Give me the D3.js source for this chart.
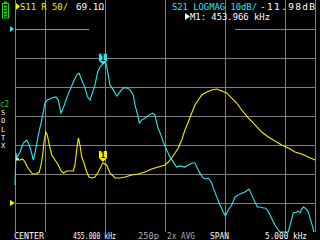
<!DOCTYPE html>
<html>
<head>
<meta charset="utf-8">
<script src="https://cdn.jsdelivr.net/npm/d3@7"></script>
<style>
  html, body { margin: 0; padding: 0; background: #000; }
  svg { display: block; }
  text { font-family: "DejaVu Sans Mono", monospace; }
</style>
</head>
<body>
<div id="chart"></div>
<script>
// sweep: center 455.000 kHz, span 5.000 kHz
const startKHz = 452.5, stopKHz = 457.5;
const gridFreqs = [452.5, 453, 454, 455, 456, 457, 457.5];
const gridDb = [-10, -20, -30, -40, -50, -60];

// S21 LOGMAG (dB)
const s21Freq = [452.500, 452.517, 452.528, 452.583, 452.638, 452.695, 452.738, 452.778, 452.805, 452.833,
  452.888, 452.945, 453.000, 453.038, 453.112, 453.183, 453.222, 453.267, 453.305, 453.362,
  453.417, 453.472, 453.528, 453.567, 453.612, 453.667, 453.708, 453.750, 453.788, 453.833,
  453.878, 453.917, 453.966, 454.012, 454.045, 454.083, 454.138, 454.195, 454.250, 454.305,
  454.362, 454.417, 454.472, 454.500, 454.545, 454.572, 454.612, 454.667, 454.733, 454.795,
  454.833, 454.878, 454.933, 454.972, 455.028, 455.083, 455.138, 455.195, 455.250, 455.333,
  455.388, 455.445, 455.500, 455.538, 455.583, 455.622, 455.667, 455.722, 455.778, 455.805,
  455.862, 455.917, 455.972, 456.008, 456.055, 456.112, 456.167, 456.222, 456.278, 456.333,
  456.400, 456.445, 456.500, 456.538, 456.583, 456.638, 456.667, 456.705, 456.750, 456.783,
  456.833, 456.888, 456.917, 457.055, 457.112, 457.138, 457.195, 457.222, 457.250, 457.278,
  457.305, 457.333, 457.362, 457.388, 457.417, 457.462, 457.483];
const s21Db = [-53.8, -42.8, -44.5, -42.4, -39.3, -38.3, -40.0, -42.8, -45.2, -42.8,
  -36.6, -31.4, -25.5, -24.5, -23.8, -23.4, -24.5, -29.0, -27.2, -23.8,
  -21.0, -18.3, -15.9, -15.2, -17.6, -20.3, -23.4, -24.5, -22.1, -19.3,
  -14.8, -13.1, -11.98, -11.4, -14.8, -19.3, -21.0, -23.1, -21.7, -20.3,
  -20.3, -21.0, -22.8, -26.2, -29.7, -32.4, -31.4, -30.7, -29.7, -29.0,
  -29.7, -33.8, -36.6, -39.0, -41.7, -44.1, -45.9, -47.6, -47.2, -47.6,
  -46.9, -46.2, -46.2, -47.9, -49.7, -51.0, -51.7, -51.4, -53.1, -54.8,
  -57.9, -60.7, -63.1, -64.5, -62.4, -60.7, -57.9, -57.2, -56.6, -56.2,
  -55.2, -57.2, -59.7, -61.4, -61.4, -61.7, -61.7, -62.4, -64.1, -65.5,
  -67.6, -69.3, -70.0, -70.0, -65.5, -63.4, -63.1, -62.8, -63.4, -62.1,
  -61.4, -61.7, -62.4, -63.1, -65.2, -68.3, -70.0];

// S11 resistance (ohm)
const s11Freq = [452.512, 452.583, 452.628, 452.667, 452.705, 452.750, 452.795, 452.850, 452.905, 452.933,
  452.962, 452.983, 453.012, 453.038, 453.072, 453.112, 453.167, 453.222, 453.267, 453.305,
  453.362, 453.472, 453.500, 453.528, 453.555, 453.583, 453.612, 453.650, 453.695, 453.733,
  453.778, 453.833, 453.888, 453.945, 453.966, 454.028, 454.083, 454.167, 454.250, 454.333,
  454.445, 454.555, 454.667, 454.778, 454.888, 455.000, 455.055, 455.112, 455.167, 455.222,
  455.278, 455.333, 455.388, 455.445, 455.500, 455.555, 455.612, 455.695, 455.778, 455.862,
  455.945, 456.028, 456.112, 456.195, 456.278, 456.388, 456.500, 456.612, 456.722, 456.833,
  456.945, 457.055, 457.167, 457.278, 457.388, 457.500];
const s11R = [74.1, 74.1, 75.9, 70.7, 62.1, 55.2, 50.0, 50.0, 53.4, 65.5,
  82.8, 105.2, 122.4, 117.2, 100.0, 82.8, 74.1, 65.5, 55.2, 51.7,
  55.2, 55.2, 65.5, 91.4, 112.1, 100.0, 79.3, 69.0, 53.4, 44.8,
  43.1, 44.8, 53.4, 65.5, 69.1, 65.5, 51.7, 43.1, 43.1, 44.8,
  48.3, 50.0, 53.4, 58.6, 62.1, 65.5, 70.7, 77.6, 86.2, 94.8,
  108.6, 125.9, 139.7, 155.2, 169.0, 177.6, 186.2, 191.4, 194.8, 196.6,
  193.1, 189.7, 181.0, 172.4, 160.3, 146.6, 134.5, 122.4, 113.8, 106.9,
  100.0, 94.8, 87.9, 84.5, 79.3, 74.1];

const markerFreq = 453.966, markerDb = -11.98, markerR = 69.1;
const calLetters = ['S', 'O', 'L', 'T', 'X'];

const W = 320, H = 240;
const svg = d3.select('#chart').append('svg').attr('width', W).attr('height', H);
svg.append('rect').attr('width', W).attr('height', H).attr('fill', '#000');

const x = d3.scaleLinear().domain([startKHz, stopKHz]).range([15, 315]);
const yDb = d3.scaleLinear().domain([10, -70]).range([0, 232]);   // 10 dB/div, ref 0 dB
const yR = d3.scaleLinear().domain([-50, 350]).range([232, 0]);   // 50 ohm/div, ref 0

const grid = svg.append('g').attr('stroke', '#808080').attr('shape-rendering', 'crispEdges');
grid.selectAll('line.v').data(gridFreqs).join('line').attr('class', 'v')
  .attr('x1', d => Math.round(x(d)) + 0.5).attr('x2', d => Math.round(x(d)) + 0.5)
  .attr('y1', 0).attr('y2', 232);
grid.selectAll('line.h').data(gridDb).join('line').attr('class', 'h')
  .attr('x1', 15).attr('x2', 316)
  .attr('y1', d => Math.round(yDb(d)) + 0.5).attr('y2', d => Math.round(yDb(d)) + 0.5);
// reference row at 0 dB
svg.append('line').attr('x1', 15).attr('x2', 89).attr('y1', yDb(0) + 0.5).attr('y2', yDb(0) + 0.5)
  .attr('stroke', '#f07070').attr('shape-rendering', 'crispEdges');
svg.append('line').attr('x1', 235).attr('x2', 316).attr('y1', yDb(0) + 0.5).attr('y2', yDb(0) + 0.5)
  .attr('stroke', '#808080').attr('shape-rendering', 'crispEdges');

const clampDb = v => Math.max(-70, v);
const lineDb = d3.line().x(d => x(d[0])).y(d => yDb(clampDb(d[1])));
const lineR = d3.line().x(d => x(d[0])).y(d => yR(d[1]));

svg.append('path').datum(d3.zip(s11Freq, s11R)).attr('d', lineR)
  .attr('fill', 'none').attr('stroke', '#f4f000').attr('stroke-width', 1.1);
svg.append('path').datum(d3.zip(s21Freq, s21Db)).attr('d', lineDb)
  .attr('fill', 'none').attr('stroke', '#30e4f4').attr('stroke-width', 1.1);
svg.append('line').attr('x1', 16).attr('x2', 19).attr('y1', 159).attr('y2', 159)
  .attr('stroke', '#fff').attr('stroke-width', 1.5);

// markers
function marker(mx, my, color, up) {
  const g = svg.append('g').attr('transform', `translate(${mx},${my - up})`);
  g.append('path').attr('d', 'M-4,-8 H4 V-1 L0,3 L-4,-1 Z').attr('fill', color);
  g.append('text').attr('x', 0).attr('y', -1).attr('text-anchor', 'middle')
    .attr('font-size', 8).attr('font-weight', 'bold').attr('fill', '#000').text('1');
}
marker(x(markerFreq), yDb(markerDb), '#30e4f4', 2);
marker(x(markerFreq), yR(markerR), '#f4f000', 4);

// reference arrows
svg.append('path').attr('d', `M10,${yDb(0) - 3} L14,${yDb(0)} L10,${yDb(0) + 3} Z`).attr('fill', '#30e4f4');
svg.append('path').attr('d', `M10,${yR(0) - 3} L15,${yR(0)} L10,${yR(0) + 3} Z`).attr('fill', '#f4f000');

// battery
const bat = svg.append('g');
bat.append('rect').attr('x', 4).attr('y', 1.5).attr('width', 3).attr('height', 1.5).attr('fill', '#20d020');
bat.append('rect').attr('x', 2.5).attr('y', 3.5).attr('width', 6).attr('height', 14.5)
  .attr('fill', 'none').attr('stroke', '#20d020');
[5.5, 8.5, 11.5, 14.5].forEach(by =>
  bat.append('rect').attr('x', 4).attr('y', by).attr('width', 3).attr('height', 2).attr('fill', '#20d020'));

// texts
function txt(s, tx, ty, color, len, size, adj) {
  const t = svg.append('text').attr('x', tx).attr('y', ty).attr('fill', color)
    .attr('font-size', size || 9.5).text(s);
  if (len) t.attr('textLength', len).attr('lengthAdjust', adj || 'spacingAndGlyphs');
  return t;
}
svg.append('path').attr('d', 'M16,3 L20,6.5 L16,10 Z').attr('fill', '#f4f000');
txt('S11 R 50/', 20, 10, '#f4f000', 48);
txt('69.1Ω', 76, 10, '#fff', 28);
txt('S21 LOGMAG 10dB/', 172, 10, '#30e4f4', 85);
txt('-11.98dB', 260, 10, '#fff', 55, 9.5, 'spacing');
svg.append('path').attr('d', 'M185,13 L190,16.5 L185,20 Z').attr('fill', '#fff');
txt('M1: 453.966 kHz', 190, 20, '#fff', 80);

txt('CENTER', 14, 239, '#fff', 30, 9);
txt('455.000 kHz', 73, 239, '#fff', 43, 9);
txt('250p', 138, 239, '#b0b0b0', 21, 9);
txt('2x AVG', 167, 239, '#b0b0b0', 28, 9);
txt('SPAN', 210, 239, '#fff', 19, 9);
txt('5.000 kHz', 265, 239, '#fff', 42, 9);

// calibration status column
txt('c2', 0, 107, '#20d020', 9, 8);
calLetters.forEach((c, i) =>
  txt(c, 1, 115 + i * 8.3, '#fff', null, 7));
</script>
</body>
</html>
